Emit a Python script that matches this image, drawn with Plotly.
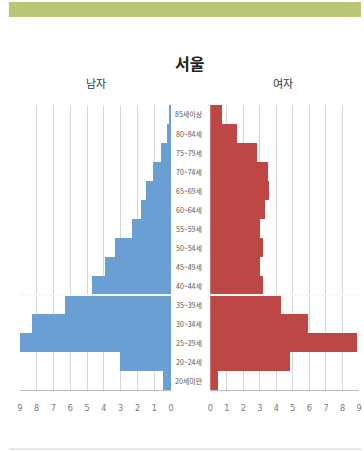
import plotly.graph_objects as go

ages = ["85세이상", "80~84세", "75~79세", "70~74세", "65~69세", "60~64세", "55~59세",
        "50~54세", "45~49세", "40~44세", "35~39세", "30~34세", "25~29세", "20~24세", "20세미만"]
male = [0.15, 0.25, 0.6, 1.07, 1.5, 1.8, 2.35, 3.35, 3.97, 4.75, 6.3, 8.3, 9.0, 3.03, 0.5]
female = [0.71, 1.66, 2.83, 3.48, 3.56, 3.33, 3.03, 3.19, 3.03, 3.23, 4.32, 5.9, 8.87, 4.85, 0.51]
tick_vals = [0, 1, 2, 3, 4, 5, 6, 7, 8, 9]
tick_text = [str(v) for v in tick_vals]

W, H = 364, 451
def px(x):
    return x / W
def py(y):
    return 1 - y / H

fig = go.Figure()
fig.add_trace(go.Bar(y=ages, x=male, orientation="h", xaxis="x", yaxis="y",
                     marker=dict(color="#6a9fd3", line=dict(width=0)), width=1, showlegend=False))
fig.add_trace(go.Bar(y=ages, x=female, orientation="h", xaxis="x2", yaxis="y",
                     marker=dict(color="#bd4744", line=dict(width=0)), width=1, showlegend=False))

axis_common = dict(tickvals=tick_vals, ticktext=tick_text, showgrid=True, gridcolor="#d6d6d6",
                   gridwidth=1, zeroline=False, showline=True, linecolor="#bdbdbd", linewidth=1,
                   ticks="", ticklabelstandoff=9,
                   tickfont=dict(family="Liberation Sans Narrow, DejaVu Sans Condensed, sans-serif",
                                 size=9, color="#777"))

L_DOM = [px(17), px(171)]
R_DOM = [px(210.7), px(362)]
fig.update_layout(
    width=W, height=H, margin=dict(l=0, r=0, t=0, b=0),
    paper_bgcolor="white", plot_bgcolor="white", bargap=0,
    xaxis=dict(domain=L_DOM, range=[9, 0], anchor="y", **axis_common),
    xaxis2=dict(domain=R_DOM, range=[0, 9], anchor="y", **axis_common),
    yaxis=dict(domain=[py(390), py(105)], autorange="reversed", showticklabels=False,
               showgrid=False, zeroline=False, showline=False, anchor="x"),
)

# Age labels in the middle column
for a in ages:
    fig.add_annotation(x=px(189), y=a, xref="paper", yref="y", text=a, showarrow=False,
                       font=dict(family="Noto Sans CJK KR", size=7, color="#555"),
                       xanchor="center", yanchor="middle")

# Titles
fig.add_annotation(x=px(190), y=py(63), xref="paper", yref="paper", text="<b>서울</b>", showarrow=False,
                   font=dict(family="Noto Sans CJK KR", size=16, color="#222"),
                   xanchor="center", yanchor="middle")
fig.add_annotation(x=px(95), y=py(83), xref="paper", yref="paper", text="남자", showarrow=False,
                   font=dict(family="Noto Sans CJK KR", size=11, color="#333"),
                   xanchor="center", yanchor="middle")
fig.add_annotation(x=px(285), y=py(83), xref="paper", yref="paper", text="여자", showarrow=False,
                   font=dict(family="Noto Sans CJK KR", size=11, color="#333"),
                   xanchor="center", yanchor="middle")

# Decorative top banner and bottom rule
fig.add_shape(type="rect", xref="paper", yref="paper", x0=px(6), x1=1, y0=py(17), y1=py(2),
              fillcolor="#b9c774", line=dict(width=0), layer="below")
fig.add_shape(type="line", xref="paper", yref="paper", x0=px(6), x1=1, y0=py(449), y1=py(449),
              line=dict(color="#d0d0d0", width=1))
# White separator between 40~44세 and 35~39세 (within each panel)
for dom in (L_DOM, R_DOM):
    fig.add_shape(type="line", xref="paper", yref="y", x0=dom[0], x1=dom[1], y0=9.5, y1=9.5,
                  line=dict(color="#f4f8ff", width=2), layer="above")

fig.write_html("out.html")
